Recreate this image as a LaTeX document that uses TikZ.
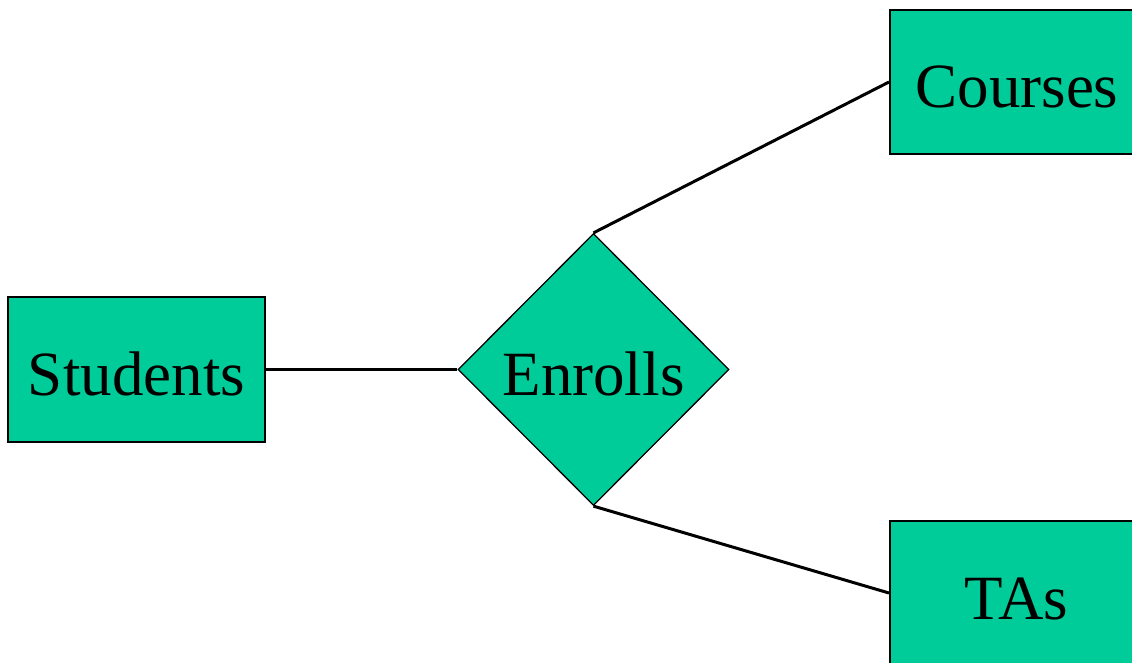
\documentclass[tikz,border=0pt]{standalone}
\usepackage{fontspec}
\setmainfont{Liberation Serif}
\usetikzlibrary{shapes.geometric}
\definecolor{erfill}{RGB}{0,204,153}
\begin{document}
\begin{tikzpicture}[x=1pt,y=-1pt,
  every node/.style={font=\fontsize{63}{70}\selectfont, text height=52pt, text depth=0pt, inner sep=0pt},
  entity/.style={draw=black, line width=2pt, fill=erfill, rectangle},
  relation/.style={draw=black, line width=1.3pt, fill=erfill, diamond, aspect=1},
  link/.style={draw=black, line width=3pt}]
  \useasboundingbox (0,0) rectangle (1132,663);
  \clip (0,0) rectangle (1132,663);
  % entity sets
  \node[entity, minimum width=257pt, minimum height=145pt] (students) at (136.5,369.5) {Students};
  \node[entity, minimum width=270pt, minimum height=144pt, anchor=west] (courses) at (889,82) {\hspace*{-16pt}Courses};
  \node[entity, minimum width=270pt, minimum height=144pt, anchor=west] (tas) at (889,593) {\hspace*{-17pt}TAs};
  % relationship set
  \node[relation, minimum width=271pt, minimum height=272pt] (enrolls) at (593.5,369.5) {Enrolls};
  % connectors
  \draw[link] (students.east) -- (enrolls.west);
  \draw[link] (enrolls.north) -- (courses.west);
  \draw[link] (enrolls.south) -- (tas.west);
\end{tikzpicture}
\end{document}
